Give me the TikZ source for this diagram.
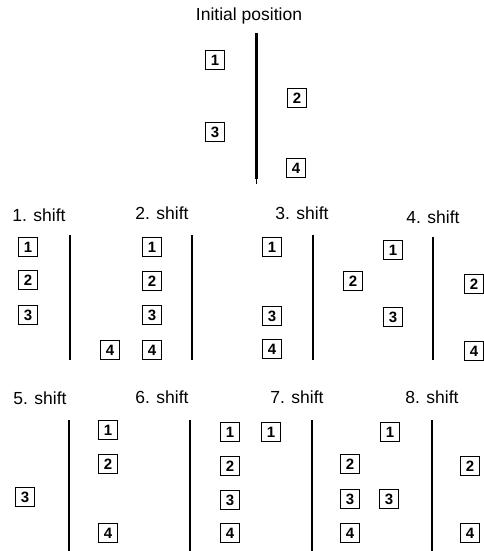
\documentclass[tikz,border=0pt]{standalone}
\usepackage{fontspec}
\setmainfont{Liberation Sans}
\tikzset{
  nbox/.style={draw, line width=1.3pt, minimum size=19pt, inner sep=0pt, font=\fontsize{15}{15}\selectfont\bfseries},
  wall/.style={line width=2.9pt},
  lbl/.style={font=\fontsize{17.5}{18}\selectfont, inner sep=0pt},
}
\begin{document}
\begin{tikzpicture}[x=1pt,y=-1pt]
\useasboundingbox (0,0) rectangle (484,551);
% Initial position
\node[lbl, font=\fontsize{17.5}{18}\selectfont] (title) at (249,16) {Initial position};
\draw[wall] (256.5,33) -- (256.5,179);
\draw[line width=1pt] (256.5,178) -- (256.5,184);
\node[nbox] (i1) at (215,60) {1};
\node[nbox] (i2) at (297,98) {2};
\node[nbox] (i3) at (215,132) {3};
\node[nbox] (i4) at (296,168) {4};

% Row 2 labels
\node[lbl] (l1) at (39,215) {1. shift};
\node[lbl] (l2) at (162,213) {2. shift};
\node[lbl] (l3) at (302,213) {3. shift};
\node[lbl] (l4) at (433,217) {4. shift};
% Row 2 walls
\draw[wall] (70,235) -- (70,360);
\draw[wall] (192,235) -- (192,360);
\draw[wall] (313,235) -- (313,360);
\draw[wall] (433,237) -- (433,360);
% Panel 1
\node[nbox] (a1) at (28,247) {1};
\node[nbox] (a2) at (28,280) {2};
\node[nbox] (a3) at (28,315) {3};
\node[nbox] (a4) at (110,350) {4};
% Panel 2
\node[nbox] (b1) at (152,247) {1};
\node[nbox] (b2) at (152,281) {2};
\node[nbox] (b3) at (152,315) {3};
\node[nbox] (b4) at (152,350) {4};
% Panel 3
\node[nbox] (c1) at (272,247) {1};
\node[nbox] (c2) at (353,281) {2};
\node[nbox] (c3) at (272,316) {3};
\node[nbox] (c4) at (272,349) {4};
% Panel 4
\node[nbox] (d1) at (393,250) {1};
\node[nbox] (d2) at (474,284) {2};
\node[nbox] (d3) at (393,317) {3};
\node[nbox] (d4) at (474,351) {4};

% Row 3 labels
\node[lbl] (l5) at (40,398) {5. shift};
\node[lbl] (l6) at (162,397) {6. shift};
\node[lbl] (l7) at (297,397) {7. shift};
\node[lbl] (l8) at (432,397) {8. shift};
% Row 3 walls
\draw[wall] (69,420) -- (69,551);
\draw[wall] (190,420) -- (190,551);
\draw[wall] (312,420) -- (312,551);
\draw[wall] (432,420) -- (432,551);
% Panel 5
\node[nbox] (e1) at (108,430) {1};
\node[nbox] (e2) at (108,464) {2};
\node[nbox] (e3) at (25,497) {3};
\node[nbox] (e4) at (108,533) {4};
% Panel 6
\node[nbox] (f1) at (230,432) {1};
\node[nbox] (f2) at (230,466) {2};
\node[nbox] (f3) at (230,500) {3};
\node[nbox] (f4) at (230,533) {4};
% Panel 7
\node[nbox] (g1) at (271,432) {1};
\node[nbox] (g2) at (350,464) {2};
\node[nbox] (g3) at (350,499) {3};
\node[nbox] (g4) at (350,533) {4};
% Panel 8
\node[nbox] (h1) at (390,432) {1};
\node[nbox] (h2) at (470,466) {2};
\node[nbox] (h3) at (389,499) {3};
\node[nbox] (h4) at (470,533) {4};
\end{tikzpicture}
\end{document}
